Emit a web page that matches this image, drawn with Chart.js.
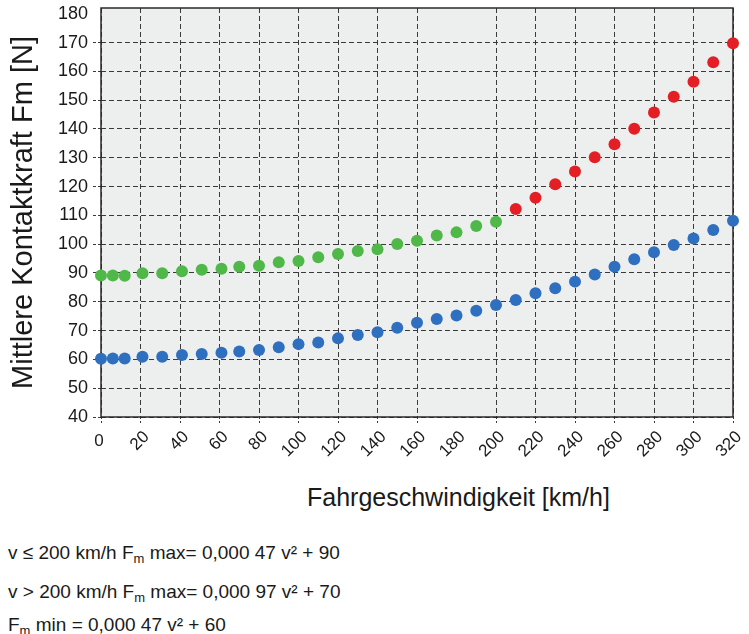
<!DOCTYPE html>
<html>
<head>
<meta charset="utf-8">
<script src="https://cdn.jsdelivr.net/npm/chart.js@4.4.1/dist/chart.umd.min.js"></script>
<style>
  html, body { margin: 0; padding: 0; background: #fff; }
  #wrap { position: relative; width: 749px; height: 634px; font-family: "Liberation Sans", Arial, sans-serif; color: #1a1a1a; }
  #chart { position: absolute; left: 0; top: 0; }
  #xTitle { position: absolute; left: 307px; top: 482px; font-size: 25px; line-height: 30px; white-space: nowrap; }
  .formula { position: absolute; left: 8px; font-size: 19px; line-height: 22px; white-space: nowrap; }
  .formula sub { font-size: 13px; vertical-align: -4px; line-height: 0; }
</style>
</head>
<body>
<div id="wrap">
  <canvas id="chart" width="749" height="470"></canvas>
  <div id="xTitle">Fahrgeschwindigkeit [km/h]</div>
  <div class="formula" style="top:542px">v ≤ 200 km/h F<sub>m</sub> max= 0,000 47 v² + 90</div>
  <div class="formula" style="top:581px">v &gt; 200 km/h F<sub>m</sub> max= 0,000 97 v² + 70</div>
  <div class="formula" style="top:614px">F<sub>m</sub> min = 0,000 47 v² + 60</div>
</div>
<script>
// speeds (km/h)
const speedLow = [0, 6, 12, 21, 31, 41, 51, 61, 70, 80, 90, 100, 110, 120, 130, 140, 150, 160, 170, 180, 190, 200];
const speedHigh = [210, 220, 230, 240, 250, 260, 270, 280, 290, 300, 310, 320];

// Fm max up to 200 km/h (green)
const maxLow = [89.1, 89.1, 89.0, 89.9, 89.9, 90.6, 91.1, 91.5, 92.2, 92.5, 93.7, 94.2, 95.5, 96.6, 97.6, 98.2, 100.1, 101.2, 103.0, 104.1, 106.3, 107.8];
// Fm max above 200 km/h (red)
const maxHigh = [112.2, 116.1, 120.8, 125.2, 130.2, 134.7, 140.1, 145.7, 151.2, 156.4, 163.2, 169.8];
// Fm min over whole range (blue)
const minAll = [60.2, 60.3, 60.3, 60.9, 60.9, 61.5, 61.9, 62.3, 62.7, 63.3, 64.2, 65.3, 65.9, 67.3, 68.5, 69.4, 71.0, 72.7, 74.0, 75.2, 76.9, 78.9,
                80.6, 83.0, 84.7, 87.0, 89.5, 92.2, 94.8, 97.2, 99.7, 102.0, 104.9, 108.1];

const xTicks = [0, 20, 40, 60, 80, 100, 120, 140, 160, 180, 200, 220, 240, 260, 280, 300, 320];
const yTicks = [40, 50, 60, 70, 80, 90, 100, 110, 120, 130, 140, 150, 160, 170, 180];

const FONT = '"Liberation Sans", Arial, sans-serif';
const GRID = '#3a3a3a';

const toPoints = (xs, ys) => ys.map((y, i) => ({ x: xs[i], y }));

// plot background + frame, and the unrotated "0" label
const plotFrame = {
  id: 'plotFrame',
  beforeDraw(chart) {
    const { ctx, chartArea: a } = chart;
    ctx.save();
    ctx.fillStyle = '#edefef';
    ctx.fillRect(a.left, a.top, a.right - a.left, a.bottom - a.top);
    ctx.restore();
  },
  beforeDatasetsDraw(chart) {
    const { ctx, chartArea: a } = chart;
    ctx.save();
    ctx.strokeStyle = '#2a2a2a';
    ctx.lineWidth = 1.5;
    ctx.strokeRect(a.left, a.top, a.right - a.left, a.bottom - a.top);
    ctx.restore();
  },
  afterDraw(chart) {
    const { ctx } = chart;
    ctx.save();
    ctx.font = '17px ' + FONT;
    ctx.fillStyle = '#1a1a1a';
    ctx.textAlign = 'center';
    ctx.textBaseline = 'middle';
    ctx.fillText('0', chart.scales.x.getPixelForValue(0) - 2, 441);
    ctx.restore();
  }
};

const gridColor = c => (c.tick && c.tick.value === 180 ? 'rgba(0,0,0,0)' : GRID);

new Chart(document.getElementById('chart'), {
  type: 'scatter',
  data: {
    datasets: [
      { label: 'Fm max (v ≤ 200)', data: toPoints(speedLow, maxLow), backgroundColor: '#4fb848', clip: false },
      { label: 'Fm max (v > 200)', data: toPoints(speedHigh, maxHigh), backgroundColor: '#e31e25', clip: false },
      { label: 'Fm min', data: toPoints(speedLow.concat(speedHigh), minAll), backgroundColor: '#2e6fc0', clip: false }
    ]
  },
  options: {
    responsive: false,
    animation: false,
    layout: { padding: { top: 8, right: 16, left: 0, bottom: 0 } },
    elements: { point: { radius: 6, borderWidth: 0, hoverRadius: 6 } },
    plugins: { legend: { display: false }, tooltip: { enabled: false } },
    scales: {
      x: {
        type: 'linear',
        min: 0,
        max: 320,
        afterBuildTicks: s => { s.ticks = xTicks.map(v => ({ value: v })); },
        afterFit: s => { s.height = 53; s.paddingLeft = 0; s.paddingRight = 0; },
        border: { display: false, dash: [5, 3] },
        grid: { color: gridColor, lineWidth: 1, tickLength: 6, tickBorderDash: [2, 2] },
        ticks: {
          autoSkip: false,
          minRotation: 45,
          maxRotation: 45,
          padding: 4,
          labelOffset: 6,
          color: '#1a1a1a',
          font: { family: FONT, size: 17 },
          callback: v => (v === 0 ? '' : v)
        }
      },
      y: {
        min: 40,
        max: 182,
        afterBuildTicks: s => { s.ticks = yTicks.map(v => ({ value: v })); },
        afterFit: s => { s.width = 101; s.paddingTop = 0; s.paddingBottom = 0; },
        border: { display: false, dash: [5, 3] },
        grid: { color: gridColor, lineWidth: 1, tickLength: 8, tickBorderDash: [3, 2] },
        ticks: { padding: 5, color: '#1a1a1a', font: { family: FONT, size: 18 } },
        title: {
          display: true,
          text: 'Mittlere Kontaktkraft Fm [N]',
          color: '#1a1a1a',
          font: { family: FONT, size: 29 },
          padding: { top: 7, bottom: 0 }
        }
      }
    }
  },
  plugins: [plotFrame]
});
</script>
</body>
</html>
